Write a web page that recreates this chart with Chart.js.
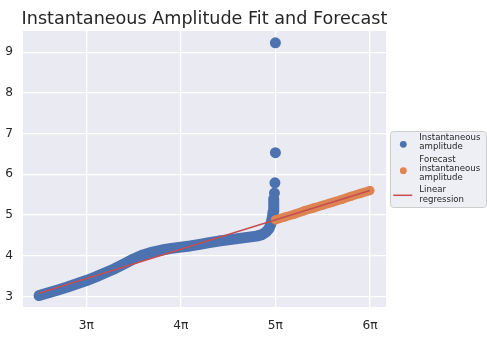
<!DOCTYPE html>
<html><head><meta charset="utf-8">
<script src="https://cdn.jsdelivr.net/npm/chart.js@4.4.0/dist/chart.umd.min.js"></script>
<style>html,body{margin:0;padding:0;background:#fff}#wrap{width:487px;height:337px;position:relative}</style>
</head><body><div id="wrap"><canvas id="c" width="487" height="337"></canvas></div>
<script>
// ---- data (x in multiples of pi) ----
const title = "Instantaneous Amplitude Fit and Forecast";
const xTickValues = [3, 4, 5, 6];
const yTickValues = [3, 4, 5, 6, 7, 8, 9];
const seriesNames = ["Instantaneous amplitude", "Forecast instantaneous amplitude", "Linear regression"];
const legendLines = [["Instantaneous", "amplitude"], ["Forecast", "instantaneous", "amplitude"], ["Linear", "regression"]];

const ampX = [2.50, 2.60, 2.70, 2.80, 2.90, 3.00, 3.10, 3.20, 3.30, 3.40, 3.50, 3.60, 3.70, 3.80, 3.90,
              4.00, 4.10, 4.20, 4.30, 4.40, 4.50, 4.60, 4.70, 4.80, 4.85, 4.90, 4.93, 4.95, 4.96, 4.97,
              4.975, 4.98, 4.985, null, 4.99, null, 4.995, null, 5.00, null, 5.00];
const ampY = [3.02, 3.09, 3.16, 3.23, 3.31, 3.39, 3.48, 3.58, 3.68, 3.80, 3.92, 4.02, 4.09, 4.14, 4.18,
              4.21, 4.24, 4.28, 4.32, 4.36, 4.39, 4.42, 4.45, 4.48, 4.51, 4.58, 4.66, 4.76, 4.86, 4.96,
              5.08, 5.22, 5.40, null, 5.54, null, 5.79, null, 6.53, null, 9.23];

const forecastX = [5.0, 5.1, 5.2, 5.3, 5.4, 5.5, 5.6, 5.7, 5.8, 5.9, 6.0];
const forecastY = [4.88, 4.95, 5.02, 5.10, 5.17, 5.24, 5.31, 5.38, 5.46, 5.53, 5.60];

const regX = [2.5, 6.0];
const regY = [3.08, 5.60];

// ---- build ----
const toPts = (xs, ys) => xs.map((x, i) => ({x: x === null ? NaN : x, y: ys[i]}));
const BLUE = '#4c72b0', ORANGE = '#dd8452', RED = '#c44e52', INK = '#262626';
const FONT = '"DejaVu Sans", sans-serif';

const bgPlugin = {
  id: 'bg',
  beforeDraw(chart) {
    const {ctx, chartArea: a} = chart;
    ctx.save();
    ctx.fillStyle = '#eaeaf2';
    ctx.fillRect(a.left, a.top, a.right - a.left, a.bottom - a.top);
    ctx.restore();
  },
  afterDraw(chart) {
    const {ctx, chartArea: a} = chart;
    ctx.save();
    // title
    ctx.fillStyle = INK;
    ctx.font = '17.6px ' + FONT;
    ctx.textAlign = 'center';
    ctx.textBaseline = 'alphabetic';
    ctx.fillText(title, (a.left + a.right) / 2, 24);
    // legend frame
    const bx = 390.5, by = 131.5, bw = 96, bh = 76, r = 3;
    ctx.beginPath();
    ctx.moveTo(bx + r, by); ctx.lineTo(bx + bw - r, by); ctx.arcTo(bx + bw, by, bx + bw, by + r, r);
    ctx.lineTo(bx + bw, by + bh - r); ctx.arcTo(bx + bw, by + bh, bx + bw - r, by + bh, r);
    ctx.lineTo(bx + r, by + bh); ctx.arcTo(bx, by + bh, bx, by + bh - r, r);
    ctx.lineTo(bx, by + r); ctx.arcTo(bx, by, bx + r, by, r); ctx.closePath();
    ctx.fillStyle = 'rgba(238,238,245,1)';
    ctx.fill();
    ctx.strokeStyle = '#cccccc'; ctx.lineWidth = 1; ctx.stroke();
    // entries
    ctx.font = '8.6px ' + FONT;
    ctx.textAlign = 'left';
    ctx.textBaseline = 'middle';
    const lineH = 9.4;
    const tops = [137.3, 159.3, 190.0];
    const markerY = [144.3, 170.7, 195.3];
    legendLines.forEach((lines, i) => {
      lines.forEach((t, j) => { ctx.fillStyle = INK; ctx.fillText(t, 419.3, tops[i] + j * lineH); });
    });
    ctx.fillStyle = BLUE; ctx.beginPath(); ctx.arc(403.3, markerY[0], 3.4, 0, Math.PI * 2); ctx.fill();
    ctx.fillStyle = ORANGE; ctx.beginPath(); ctx.arc(403.3, markerY[1], 3.4, 0, Math.PI * 2); ctx.fill();
    ctx.strokeStyle = RED; ctx.lineWidth = 1.5; ctx.beginPath(); ctx.moveTo(393.3, markerY[2]); ctx.lineTo(412.3, markerY[2]); ctx.stroke();
    ctx.restore();
  }
};

new Chart(document.getElementById('c'), {
  type: 'scatter',
  data: {
    datasets: [
      { label: seriesNames[2], data: toPts(regX, regY), showLine: true, borderColor: RED, borderWidth: 1.6,
        pointRadius: 0, order: 0 },
      { label: seriesNames[1], data: toPts(forecastX, forecastY), showLine: true, borderColor: ORANGE,
        backgroundColor: ORANGE, borderWidth: 9, borderCapStyle: 'round', borderJoinStyle: 'round',
        pointRadius: 4.5, pointBorderWidth: 0, order: 1 },
      { label: seriesNames[0], data: toPts(ampX, ampY), showLine: true, spanGaps: false, borderColor: BLUE,
        backgroundColor: BLUE, borderWidth: 11, borderCapStyle: 'round', borderJoinStyle: 'round',
        pointRadius: 4.2, pointBorderWidth: 0, order: 2 }
    ]
  },
  options: {
    responsive: false, animation: false, devicePixelRatio: 1,
    layout: { padding: { left: 0, top: 31, right: 101, bottom: 0 } },
    plugins: { legend: { display: false }, tooltip: { enabled: false }, title: { display: false } },
    scales: {
      x: {
        type: 'linear', min: 2.33, max: 6.17,
        afterBuildTicks: s => { s.ticks = xTickValues.map(v => ({value: v})); },
        afterFit: s => { s.height = 30; },
        ticks: { callback: v => v + 'π', color: INK, font: { family: FONT, size: 12.2 }, padding: 12,
                 maxRotation: 0, autoSkip: false },
        grid: { color: '#ffffff', lineWidth: 1.3, drawTicks: false },
        border: { display: false }
      },
      y: {
        type: 'linear', min: 2.74, max: 9.52,
        afterBuildTicks: s => { s.ticks = yTickValues.map(v => ({value: v})); },
        afterFit: s => { s.width = 23; },
        ticks: { color: INK, font: { family: FONT, size: 12.2 }, padding: 10, autoSkip: false },
        grid: { color: '#ffffff', lineWidth: 1.3, drawTicks: false },
        border: { display: false }
      }
    }
  },
  plugins: [bgPlugin]
});
</script></body></html>
